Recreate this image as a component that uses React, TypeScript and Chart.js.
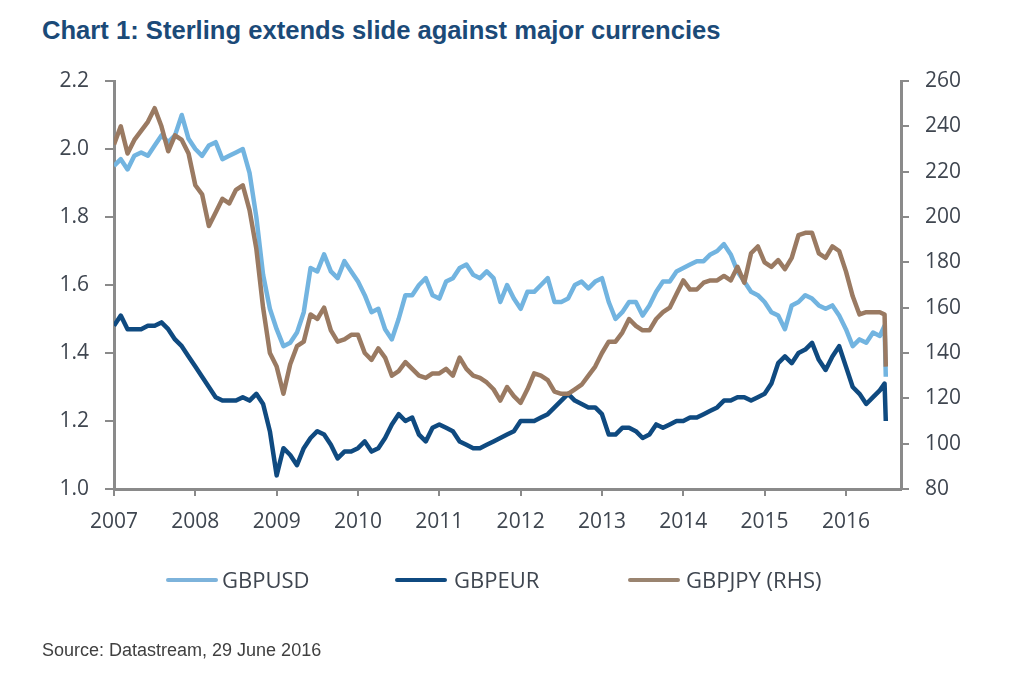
import React, { useEffect, useRef } from 'react';
import { Chart, registerables } from 'chart.js';

Chart.register(...registerables);

// Month starts Jan 2007 .. Jun 2016, then two late-June 2016 points (pre/post referendum)
const monthStarts: number[] = [];
for (let y = 2007; y <= 2016; y++) {
  for (let m = 0; m < 12; m++) {
    if (y === 2016 && m > 5) break;
    monthStarts.push(y + m / 12);
  }
}
const dates: number[] = [...monthStarts, 2016.475, 2016.49];

const gbpusd: number[] = [
  1.95, 1.97, 1.94, 1.98, 1.99, 1.98, 2.01, 2.04, 2.02, 2.04, 2.10, 2.03,
  2.00, 1.98, 2.01, 2.02, 1.97, 1.98, 1.99, 2.00, 1.93, 1.80, 1.63, 1.53,
  1.47, 1.42, 1.43, 1.46, 1.52, 1.65, 1.64, 1.69, 1.64, 1.62, 1.67, 1.64,
  1.61, 1.57, 1.52, 1.53, 1.47, 1.44, 1.50, 1.57, 1.57, 1.60, 1.62, 1.57,
  1.56, 1.61, 1.62, 1.65, 1.66, 1.63, 1.62, 1.64, 1.62, 1.55, 1.60, 1.56,
  1.53, 1.58, 1.58, 1.60, 1.62, 1.55, 1.55, 1.56, 1.60, 1.61, 1.59, 1.61,
  1.62, 1.55, 1.50, 1.52, 1.55, 1.55, 1.51, 1.54, 1.58, 1.61, 1.61, 1.64,
  1.65, 1.66, 1.67, 1.67, 1.69, 1.70, 1.72, 1.69, 1.64, 1.61, 1.58, 1.57,
  1.55, 1.52, 1.51, 1.47, 1.54, 1.55, 1.57, 1.56, 1.54, 1.53, 1.54, 1.51,
  1.47, 1.42, 1.44, 1.43, 1.46, 1.45, 1.48, 1.33,
];

const gbpeur: number[] = [
  1.48, 1.51, 1.47, 1.47, 1.47, 1.48, 1.48, 1.49, 1.47, 1.44, 1.42, 1.39,
  1.36, 1.33, 1.30, 1.27, 1.26, 1.26, 1.26, 1.27, 1.26, 1.28, 1.25, 1.17,
  1.04, 1.12, 1.10, 1.07, 1.12, 1.15, 1.17, 1.16, 1.13, 1.09, 1.11, 1.11,
  1.12, 1.14, 1.11, 1.12, 1.15, 1.19, 1.22, 1.20, 1.21, 1.16, 1.14, 1.18,
  1.19, 1.18, 1.17, 1.14, 1.13, 1.12, 1.12, 1.13, 1.14, 1.15, 1.16, 1.17,
  1.20, 1.20, 1.20, 1.21, 1.22, 1.24, 1.26, 1.28, 1.26, 1.25, 1.24, 1.24,
  1.22, 1.16, 1.16, 1.18, 1.18, 1.17, 1.15, 1.16, 1.19, 1.18, 1.19, 1.20,
  1.20, 1.21, 1.21, 1.22, 1.23, 1.24, 1.26, 1.26, 1.27, 1.27, 1.26, 1.27,
  1.28, 1.31, 1.37, 1.39, 1.37, 1.40, 1.41, 1.43, 1.38, 1.35, 1.39, 1.42,
  1.36, 1.30, 1.28, 1.25, 1.27, 1.29, 1.31, 1.20,
];

const gbpjpy: number[] = [
  232, 240, 228, 234, 238, 242, 248, 240, 229, 236, 234, 228,
  214, 210, 196, 202, 208, 206, 212, 214, 203, 186, 160, 140,
  134, 122, 135, 143, 145, 157, 155, 160, 150, 145, 146, 148,
  148, 140, 137, 142, 138, 130, 132, 136, 133, 130, 129, 131,
  131, 133, 130, 138, 133, 130, 129, 127, 124, 119, 125, 121,
  118, 124, 131, 130, 128, 123, 122, 122, 124, 126, 130, 134,
  140, 145, 145, 149, 155, 152, 150, 150, 155, 158, 160, 166,
  172, 168, 168, 171, 172, 172, 174, 172, 178, 171, 184, 187,
  180, 178, 181, 177, 182, 192, 193, 193, 184, 182, 187, 185,
  176, 165, 157, 158, 158, 158, 157, 134,
];

const seriesNames = ['GBPUSD', 'GBPEUR', 'GBPJPY (RHS)'];
const seriesColors = ['#72B4E0', '#0F4A80', '#9A7A62'];
const legendColors = ['#7DB3DB', '#0F4A80', '#9A8470'];

const leftTicks = { min: 1.0, max: 2.2, step: 0.2 };
const rightTicks = { min: 80, max: 260, step: 20 };
const xRange = { min: 2007, max: 2016.677 };

const AXIS_COLOR = '#8A8A8A';
const LABEL_COLOR = '#3F4650';

function pts(values: number[]) {
  return dates.map((d, i) => ({ x: d, y: values[i] }));
}

export default function App() {
  const ref = useRef<HTMLCanvasElement>(null);

  useEffect(() => {
    const tickFont = { family: "'Open Sans', sans-serif", size: 21 };
    const lineDefaults = {
      borderWidth: 4.5,
      pointRadius: 0,
      tension: 0,
      borderJoinStyle: 'round',
    };
    const chart = new Chart(ref.current as HTMLCanvasElement, {
      type: 'line',
      data: {
        datasets: [
          {
            ...lineDefaults,
            label: seriesNames[0],
            data: pts(gbpusd),
            borderColor: seriesColors[0],
            yAxisID: 'y',
            order: 2,
          },
          {
            ...lineDefaults,
            label: seriesNames[1],
            data: pts(gbpeur),
            borderColor: seriesColors[1],
            yAxisID: 'y',
            order: 1,
          },
          {
            ...lineDefaults,
            label: seriesNames[2],
            data: pts(gbpjpy),
            borderColor: seriesColors[2],
            yAxisID: 'y1',
            order: 0,
          },
        ],
      },
      options: {
        responsive: false,
        animation: false,
        layout: { padding: { top: 81, left: 0, right: 0, bottom: 0 } },
        plugins: {
          legend: { display: false },
          title: { display: false },
          tooltip: { enabled: false },
        },
        scales: {
          x: {
            type: 'linear',
            min: xRange.min,
            max: xRange.max,
            afterFit: (s: any) => {
              s.height = 676 - 489;
            },
            border: { display: true, color: AXIS_COLOR, width: 3 },
            grid: {
              display: true,
              drawOnChartArea: false,
              drawTicks: true,
              tickLength: 7,
              color: AXIS_COLOR,
              lineWidth: 2,
            },
            ticks: {
              stepSize: 1,
              includeBounds: false,
              autoSkip: false,
              maxRotation: 0,
              padding: 13,
              color: LABEL_COLOR,
              font: tickFont,
              callback: (v: any) => String(v),
            },
          },
          y: {
            type: 'linear',
            position: 'left',
            min: leftTicks.min,
            max: leftTicks.max,
            afterFit: (s: any) => {
              s.width = 114;
            },
            border: { display: true, color: AXIS_COLOR, width: 3 },
            grid: {
              display: true,
              drawOnChartArea: false,
              drawTicks: true,
              tickLength: 9,
              color: AXIS_COLOR,
              lineWidth: 2,
            },
            ticks: {
              stepSize: leftTicks.step,
              padding: 16,
              color: LABEL_COLOR,
              font: tickFont,
              callback: (v: any) => Number(v).toFixed(1),
            },
          },
          y1: {
            type: 'linear',
            position: 'right',
            min: rightTicks.min,
            max: rightTicks.max,
            afterFit: (s: any) => {
              s.width = 1010 - 901;
            },
            border: { display: true, color: AXIS_COLOR, width: 3 },
            grid: {
              display: true,
              drawOnChartArea: false,
              drawTicks: true,
              tickLength: 8,
              color: AXIS_COLOR,
              lineWidth: 2,
            },
            ticks: {
              stepSize: rightTicks.step,
              padding: 16,
              color: LABEL_COLOR,
              font: tickFont,
              callback: (v: any) => String(Math.round(Number(v))),
            },
          },
        },
      } as any,
    });
    return () => chart.destroy();
  }, []);

  const legendPos = [
    { line: 166, text: 222 },
    { line: 395, text: 454 },
    { line: 628, text: 686 },
  ];

  return (
    <div
      style={{
        position: 'absolute',
        left: 0,
        top: 0,
        width: 1010,
        height: 676,
        background: '#ffffff',
        overflow: 'hidden',
      }}
    >
      <div
        style={{
          position: 'absolute',
          left: 42,
          top: 17,
          fontFamily: "'Liberation Sans', Arial, sans-serif",
          fontWeight: 'bold',
          fontSize: 25.6,
          lineHeight: '26px',
          color: '#1B4A78',
          whiteSpace: 'nowrap',
        }}
      >
        Chart 1: Sterling extends slide against major currencies
      </div>
      <canvas
        ref={ref}
        width={1010}
        height={676}
        style={{ position: 'absolute', left: 0, top: 0, width: 1010, height: 676 }}
      />
      {seriesNames.map((name, i) => (
        <React.Fragment key={name}>
          <div
            style={{
              position: 'absolute',
              left: legendPos[i].line,
              top: 578,
              width: 52,
              height: 4,
              background: legendColors[i],
              borderRadius: 2,
            }}
          />
          <div
            style={{
              position: 'absolute',
              left: legendPos[i].text,
              top: 568,
              fontFamily: "'Open Sans', sans-serif",
              fontSize: 22,
              lineHeight: '22px',
              color: LABEL_COLOR,
              whiteSpace: 'nowrap',
            }}
          >
            {name}
          </div>
        </React.Fragment>
      ))}
      <div
        style={{
          position: 'absolute',
          left: 42,
          top: 641,
          fontFamily: "'Liberation Sans', Arial, sans-serif",
          fontSize: 18,
          lineHeight: '18px',
          color: '#404040',
          whiteSpace: 'nowrap',
        }}
      >
        Source: Datastream, 29 June 2016
      </div>
    </div>
  );
}
